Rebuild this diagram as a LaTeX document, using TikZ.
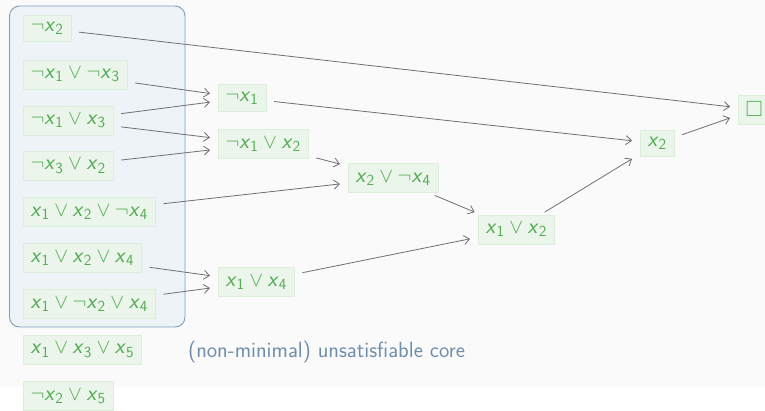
\documentclass[tikz,border=0pt]{standalone}
\usepackage{amssymb}
\usetikzlibrary{arrows.meta}
\definecolor{bggray}{RGB}{250,250,250}
\definecolor{cltext}{RGB}{82,172,82}
\definecolor{clfill}{RGB}{235,245,235}
\definecolor{cldraw}{RGB}{218,238,218}
\definecolor{corefill}{RGB}{238,243,248}
\definecolor{coredraw}{RGB}{130,156,185}
\definecolor{lbltext}{RGB}{112,142,172}
\definecolor{edgecol}{RGB}{112,112,112}
\newcommand{\X}[1]{\textsl{x}\textsubscript{#1}}
\newcommand{\NOT}{$\neg$}
\newcommand{\OR}{${}\lor{}$}
\tikzset{
  cl/.style={draw=cldraw, line width=0.8pt, fill=clfill, text=cltext, anchor=west,
    inner xsep=7.5pt, inner ysep=7pt, outer xsep=8pt, outer ysep=3pt,
    font=\fontsize{22}{26}\selectfont\sffamily},
  res/.style={draw=edgecol, line width=0.8pt, -{Straight Barb[length=5.5pt,width=9pt]}},
  corebox/.style={draw=coredraw, fill=corefill, line width=0.9pt, rounded corners=10pt}
}
\begin{document}
\begin{tikzpicture}[x=1pt,y=-1pt]
\useasboundingbox (0,0) rectangle (765,410);
\fill[white] (0,0) rectangle (765,410);
\fill[bggray] (0,0) rectangle (765,386.5);
\draw[corebox] (9.5,6) rectangle (185,327);
% column 1
\node[cl] (A) at (15,28.5) {\NOT\X2};
\node[cl] (B) at (15,74.5) {\NOT\X1\OR\NOT\X3};
\node[cl] (C) at (15,120.5) {\NOT\X1\OR\X3};
\node[cl] (D) at (15,166) {\NOT\X3\OR\X2};
\node[cl] (E) at (15,212) {\X1\OR\X2\OR\NOT\X4};
\node[cl] (F) at (15,258) {\X1\OR\X2\OR\X4};
\node[cl] (G) at (15,304) {\X1\OR\NOT\X2\OR\X4};
\node[cl] (H) at (15,350) {\X1\OR\X3\OR\X5};
\node[cl] (I) at (15,396) {\NOT\X2\OR\X5};
% derived
\node[cl] (J) at (210,98) {\NOT\X1};
\node[cl] (K) at (210,144) {\NOT\X1\OR\X2};
\node[cl] (L) at (340,178) {\X2\OR\NOT\X4};
\node[cl] (M) at (210,282) {\X1\OR\X4};
\node[cl] (N) at (470,229.5) {\X1\OR\X2};
\node[cl] (O) at (632,143.5) {\X2};
\node[cl] (P) at (730,109.5) {$\square$};
% label
\node[anchor=base west, inner sep=0pt, text=lbltext, font=\fontsize{22}{26}\selectfont\sffamily] (lbl) at (188,357.5) {(non-minimal) unsatisfiable core};
% edges
\draw[res] (A) -- (P);
\draw[res] (B) -- (J);
\draw[res] (C) -- (J);
\draw[res] (C) -- (K);
\draw[res] (D) -- (K);
\draw[res] (J) -- (O);
\draw[res] (K) -- (L);
\draw[res] (E) -- (L);
\draw[res] (L) -- (N);
\draw[res] (F) -- (M);
\draw[res] (G) -- (M);
\draw[res] (M) -- (N);
\draw[res] (N) -- (O);
\draw[res] (O) -- (P);
\end{tikzpicture}
\end{document}
